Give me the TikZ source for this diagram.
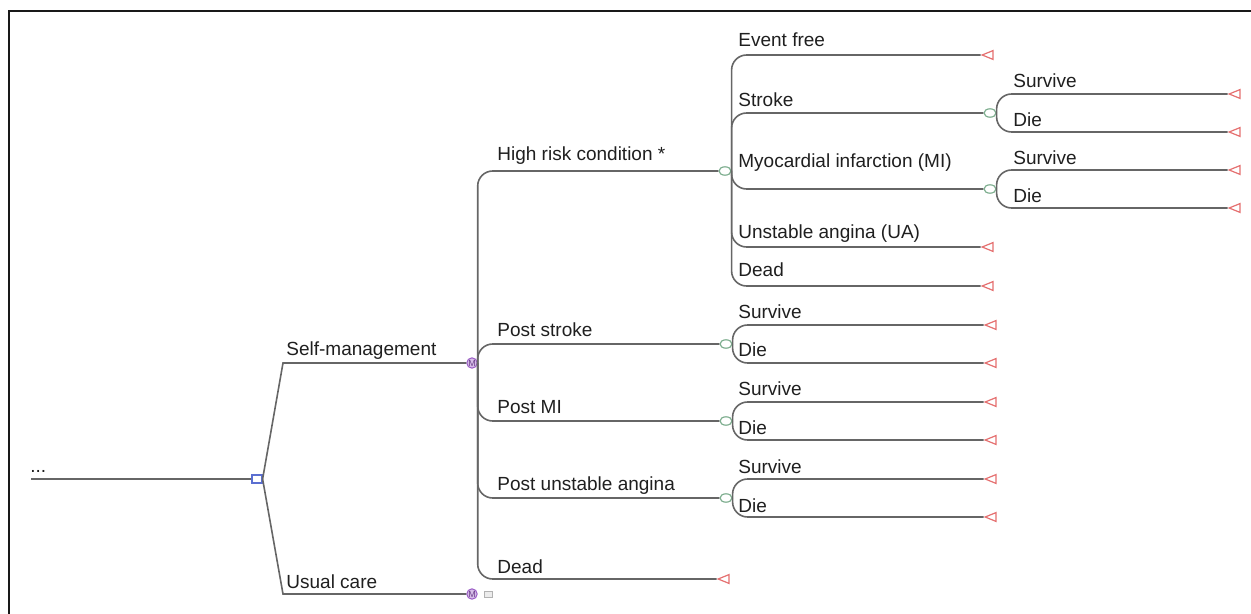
\documentclass[tikz,border=0pt]{standalone}
\usepackage{fontspec}
\setmainfont{Liberation Sans}
\usepackage{xcolor}
\usetikzlibrary{shapes.geometric}
\definecolor{chgreen}{HTML}{7FAF90}
\definecolor{tmred}{HTML}{E57070}
\definecolor{mkviolet}{HTML}{9A5CC6}
\definecolor{dcblue}{HTML}{5B6FD1}
\definecolor{ln}{gray}{0.4}

\begin{document}
\begin{tikzpicture}[x=0.5pt,y=-0.5pt,
  br/.style={draw=ln, line width=0.8pt, rounded corners=7.5pt},
  plain/.style={draw=ln, line width=0.8pt},
  chance/.style={ellipse, draw=chgreen, fill=white, line width=0.6pt, minimum width=6pt, minimum height=4.2pt, inner sep=0pt},
  term/.style={isosceles triangle, isosceles triangle stretches, shape border rotate=180, draw=tmred, fill=white, line width=0.6pt, minimum width=4.4pt, minimum height=5.4pt, inner sep=0pt},
  decision/.style={rectangle, draw=dcblue, fill=white, line width=0.6pt, minimum width=5pt, minimum height=4pt, inner sep=0pt},
  markov/.style={circle, draw=mkviolet, fill=mkviolet!40, text=mkviolet!70!black, line width=0.5pt, minimum size=5.2pt, inner sep=0pt, font=\fontsize{4.5}{5}\selectfont},
  gbox/.style={rectangle, draw=gray!60, fill=gray!15, line width=0.4pt, minimum width=4pt, minimum height=3pt, inner sep=0pt},
  lbl/.style={anchor=base west, inner sep=0pt, text=black!88, font=\fontsize{9.5}{11}\selectfont}]
\useasboundingbox (0,0) rectangle (1251,614);
\draw[line width=1pt, black!90] (9,614) -- (9,11) -- (1251,11);

\coordinate (start) at (31,479);
\node[decision] (dec) at (257,479) {};
\node[markov] (sm) at (472,363) {M};
\node[markov] (uc) at (472,594) {M};
\node[gbox] (ucend) at (488,594) {};
\node[lbl] (ldots) at (30,472) {...};
\draw[plain] (start) -- (dec);
\draw[plain] (dec.east) -- (283,363) -- (sm);
\draw[plain] (dec.east) -- (283,594) -- (uc);

\foreach \n/\x/\y in {hrc/725/171, ps/726/344, pm/726/421, pu/726/498, stc/990/113, mic/990/189}
  \node[chance] (\n) at (\x,\y) {};
\foreach \n/\x/\y in {md/726/579, ef/990/55, ua/990/247, hd/990/286,
    stsv/1237/94, stdi/1237/132, misv/1237/170, midi/1237/208,
    pssv/993/325, psdi/993/363, pmsv/993/402, pmdi/993/440, pusv/993/479, pudi/993/517}
  \node[term] (\n) at (\x,\y) {};

\foreach \a/\b in {sm/hrc, sm/ps, sm/pm, sm/pu, sm/md,
    hrc/ef, hrc/stc, hrc/mic, hrc/ua, hrc/hd,
    stc/stsv, stc/stdi, mic/misv, mic/midi,
    ps/pssv, ps/psdi, pm/pmsv, pm/pmdi, pu/pusv, pu/pudi}
  \draw[br] (\a.east) |- (\b.west);

\foreach \n/\x/\y/\t in {lsm/286/356/Self-management, luc/286/588/Usual care,
    lhrc/497/161/High risk condition *, lps/497/336/Post stroke, lpm/497/413/Post MI,
    lpu/497/490/Post unstable angina, lmd/497/573/Dead,
    lef/738/47/Event free, lst/738/107/Stroke, lmi/738/168/Myocardial infarction (MI),
    lua/738/239/Unstable angina (UA), lhd/738/277/Dead,
    lstsv/1013/88/Survive, lstdi/1013/127/Die, lmisv/1013/165/Survive, lmidi/1013/203/Die,
    lpssv/738/319/Survive, lpsdi/738/357/Die, lpmsv/738/395/Survive, lpmdi/738/434/Die,
    lpusv/738/473/Survive, lpudi/738/512/Die}
  \node[lbl] (\n) at (\x,\y) {\t};
\end{tikzpicture}
\end{document}
